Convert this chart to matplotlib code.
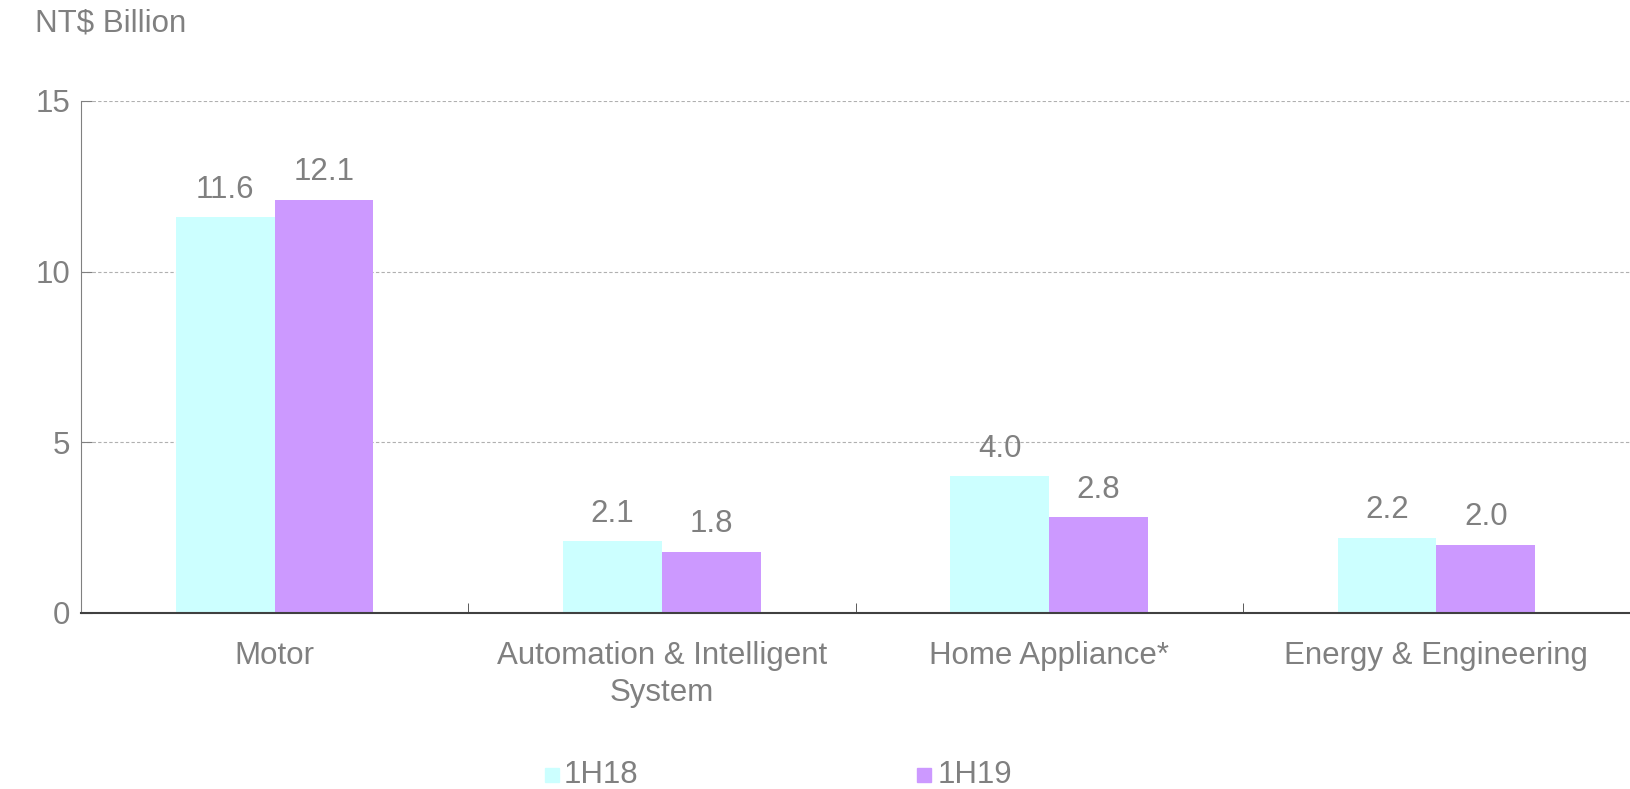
import numpy as np
import matplotlib.pyplot as plt
from matplotlib.patches import Rectangle

plt.rcParams['font.family'] = ['Liberation Sans', 'DejaVu Sans']

categories = ["Motor", "Automation & Intelligent\nSystem", "Home Appliance*", "Energy & Engineering"]
s1h18 = [11.6, 2.1, 4.0, 2.2]
s1h19 = [12.1, 1.8, 2.8, 2.0]
series = ["1H18", "1H19"]
colors = ["#CCFFFF", "#CC99FF"]
grey = "#808080"
fs = 22.5

fig = plt.figure(figsize=(16.3, 7.89), dpi=100)
ax = fig.add_axes([81/1630, 1 - 613/789, 1549/1630, 512/789])

x = np.arange(len(categories))
w = 0.255
b1 = ax.bar(x - w/2, s1h18, w, color=colors[0])
b2 = ax.bar(x + w/2, s1h19, w, color=colors[1])

for bars, vals in ((b1, s1h18), (b2, s1h19)):
    for r, v in zip(bars, vals):
        ax.annotate(f"{v:.1f}", (r.get_x() + r.get_width()/2, v), xytext=(0, 9),
                    textcoords="offset points", ha="center", va="bottom",
                    fontsize=fs, color=grey)

ax.set_xlim(-0.5, len(categories) - 0.5)
ax.set_ylim(0, 15)
ax.set_yticks([0, 5, 10, 15])
ax.yaxis.grid(True, linestyle=(0, (3, 2)), color="#b0b0b0", linewidth=0.8)
ax.set_axisbelow(True)
ax.spines[['top', 'right']].set_visible(False)
ax.spines['left'].set_color("#808080")
ax.spines['bottom'].set_color("#404040")
ax.spines['bottom'].set_linewidth(1.5)

ax.set_xticks(x)
ax.set_xticklabels(categories, fontsize=fs, color=grey, linespacing=1.3)
ax.tick_params(axis='x', length=0, pad=20)
ax.set_xticks(np.arange(0.5, len(categories) - 0.5), minor=True)
ax.tick_params(axis='x', which='minor', direction='in', length=7, color="#404040")
ax.tick_params(axis='y', labelsize=fs, labelcolor=grey, direction='in', length=8,
               color="#808080", pad=8)

fig.text(35/1630, 1 - 23/789, "NT$ Billion", fontsize=fs, color=grey, va="center", ha="left")

# legend
for sx, tx, lab, c in ((545, 564, series[0], colors[0]), (917, 938, series[1], colors[1])):
    fig.patches.append(Rectangle((sx/1630, 1 - 782/789), 14/1630, 14/789,
                                 transform=fig.transFigure, color=c))
    fig.text(tx/1630, 1 - 775/789, lab, fontsize=fs, color=grey, va="center", ha="left")

fig.savefig("out.png", dpi=100)
